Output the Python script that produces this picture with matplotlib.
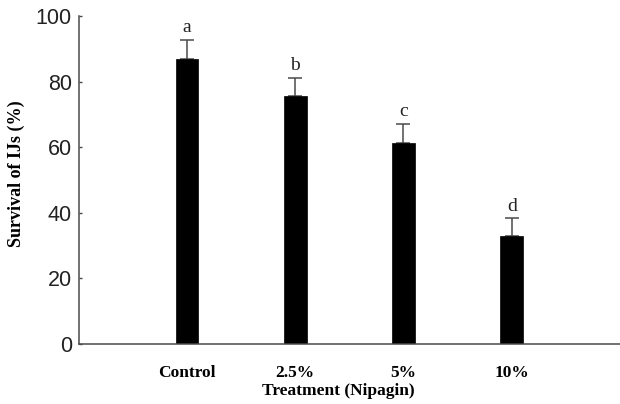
import numpy as np
import matplotlib.pyplot as plt

# survival of infective juveniles under nipagin treatments
treatments = ["Control", "2.5%", "5%", "10%"]
survival = [86.9, 75.7, 61.4, 32.9]
survival_se = [5.8, 5.5, 5.6, 5.4]
groups = ["a", "b", "c", "d"]

serif = ["Liberation Serif", "DejaVu Serif"]
sans = ["Liberation Sans", "DejaVu Sans"]
axis_col = "#4a4a4a"

fig = plt.figure(figsize=(6.2, 4.04), dpi=100)
ax = fig.add_axes([0.127, 0.1485, 0.873, 0.8115])

x = np.arange(1, len(treatments) + 1)
ax.bar(x, survival, width=0.21, color="black", edgecolor="black", linewidth=0.5, zorder=2)
ax.errorbar(x, survival, yerr=[np.zeros(len(x)), survival_se], fmt="none",
            ecolor=axis_col, elinewidth=1.1, capsize=5, capthick=1.1, zorder=1)

for xi, yi, err, g in zip(x, survival, survival_se, groups):
    ax.text(xi, yi + err + 1.2, g, ha="center", va="bottom",
            fontsize=14, family=serif, color="#222222")

ax.set_xlim(0, 5)
ax.set_ylim(0, 100)
ax.set_yticks([0, 20, 40, 60, 80, 100])
ax.set_xticks(x)
ax.set_xticklabels(treatments, family=serif, fontweight="bold", fontsize=12.5)
for lab in ax.get_yticklabels():
    lab.set_family(sans)
    lab.set_fontsize(15.5)
    lab.set_color("#222222")

ax.tick_params(axis="y", direction="in", length=2, width=1, color=axis_col, pad=5)
ax.tick_params(axis="x", length=0, pad=15)

for side in ["top", "right"]:
    ax.spines[side].set_visible(False)
for side in ["left", "bottom"]:
    ax.spines[side].set_color(axis_col)
    ax.spines[side].set_linewidth(1.1)

ax.set_xlabel("Treatment (Nipagin)", family=serif, fontweight="bold", fontsize=12.5)
ax.xaxis.set_label_coords(0.48, -0.12)
ax.set_ylabel("Survival of IJs (%)", family=serif, fontweight="bold", fontsize=13)
ax.yaxis.set_label_coords(-0.1, 0.52)

fig.savefig("out.png", dpi=100)
